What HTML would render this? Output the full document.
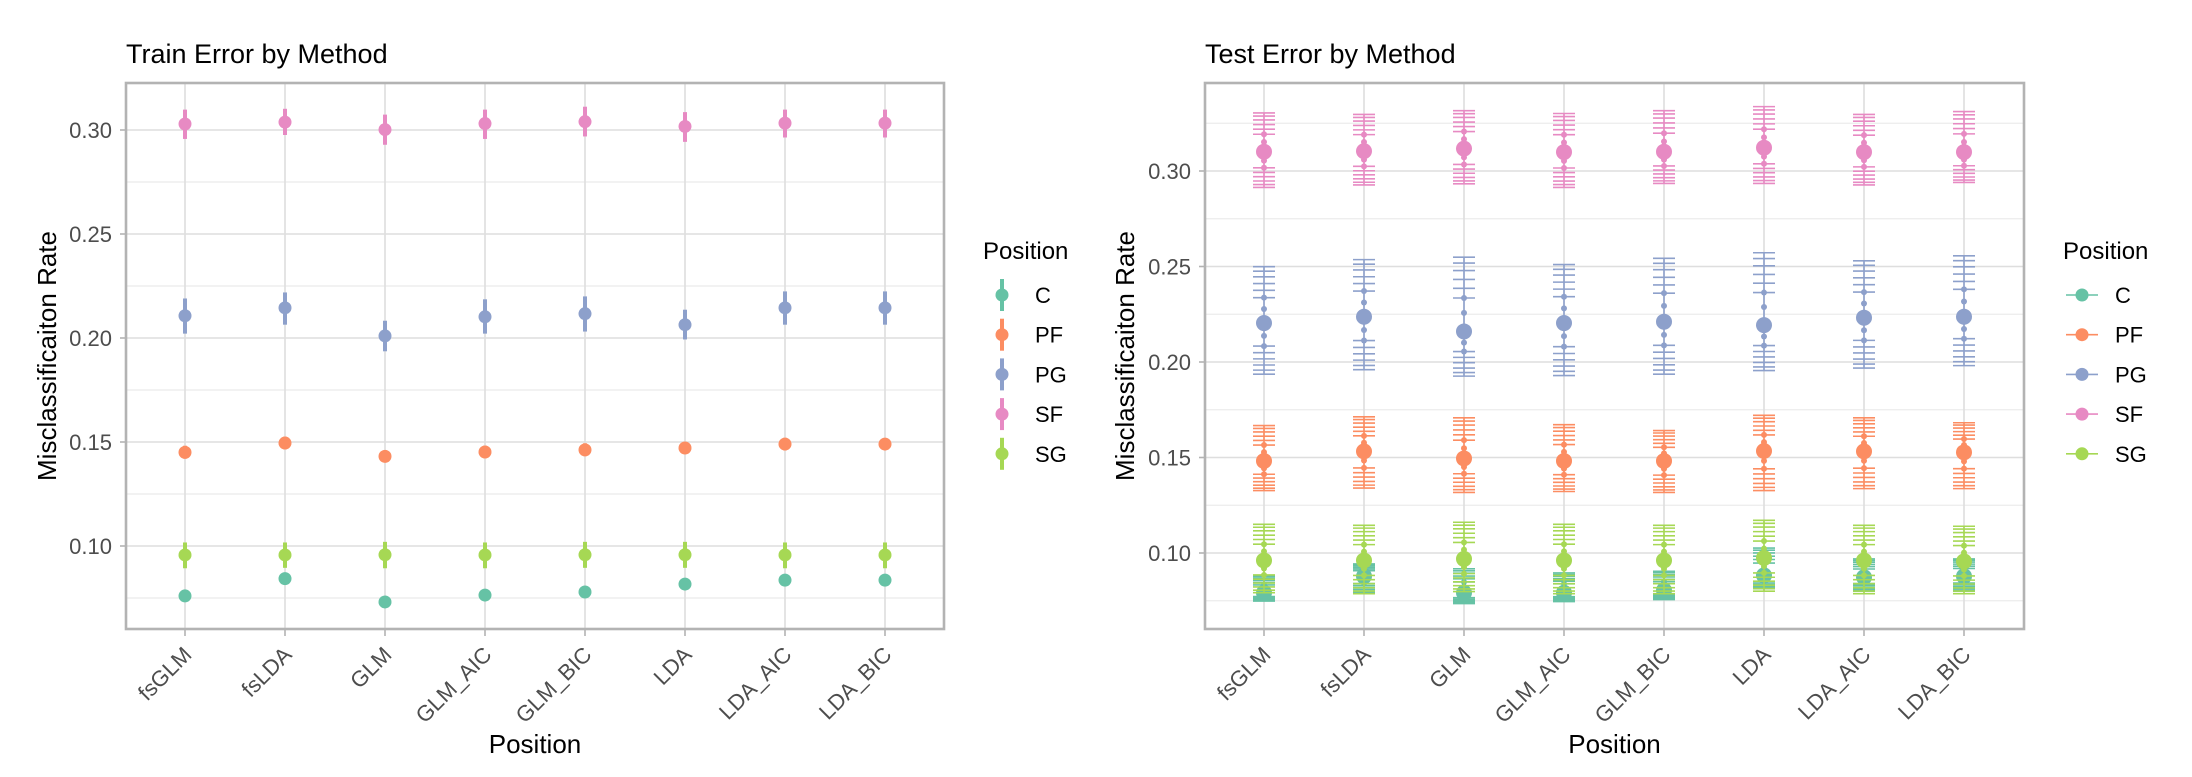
<!DOCTYPE html>
<html><head><meta charset="utf-8">
<style>
html,body{margin:0;padding:0;background:#fff;}
svg{display:block;font-family:"Liberation Sans",sans-serif;}
</style></head>
<body>
<svg id="chart" width="2192" height="777" viewBox="0 0 2192 777" xmlns="http://www.w3.org/2000/svg"></svg>
<script>
const methods = ["fsGLM","fsLDA","GLM","GLM_AIC","GLM_BIC","LDA","LDA_AIC","LDA_BIC"];
const positions = ["C","PF","PG","SF","SG"];
const colors = ["#66c2a5","#fc8d62","#8da0cb","#e78ac3","#a6d854"];
const yTicks = [0.10,0.15,0.20,0.25,0.30];
const yTickLabels = ["0.10","0.15","0.20","0.25","0.30"];
const yMinor = [0.075,0.125,0.175,0.225,0.275];
const yMinorTest = [0.075,0.125,0.175,0.225,0.275,0.325];

const trainMeanC  = [.0760,.0843,.0731,.0764,.0779,.0817,.0836,.0836];
const trainMeanPF = [.1450,.1495,.1431,.1452,.1462,.1471,.1490,.1490];
const trainMeanPG = [.2107,.2145,.2010,.2102,.2117,.2064,.2145,.2145];
const trainMeanSF = [.3029,.3038,.3002,.3031,.3040,.3017,.3033,.3033];
const trainMeanSG = [.0957,.0957,.0958,.0957,.0958,.0958,.0957,.0957];
const trainLoC  = [.0760,.0843,.0731,.0764,.0779,.0817,.0836,.0836];
const trainHiC  = [.0760,.0843,.0731,.0764,.0779,.0817,.0836,.0836];
const trainLoPF = [.1420,.1465,.1405,.1422,.1432,.1462,.1460,.1462];
const trainHiPF = [.1482,.1525,.1460,.1482,.1494,.1480,.1520,.1518];
const trainLoPG = [.2021,.2064,.1936,.2021,.2031,.1993,.2064,.2064];
const trainHiPG = [.2190,.2219,.2083,.2186,.2200,.2136,.2224,.2224];
const trainLoSF = [.2957,.2976,.2929,.2957,.2969,.2943,.2964,.2964];
const trainHiSF = [.3098,.3102,.3074,.3098,.3112,.3086,.3098,.3098];
const trainLoSG = [.0893,.0895,.0893,.0893,.0895,.0895,.0893,.0893];
const trainHiSG = [.1017,.1017,.1020,.1017,.1020,.1020,.1017,.1017];

const testMeanC  = [.0792,.0878,.0792,.0792,.0805,.0883,.0873,.0878];
const testMeanPF = [.1482,.1532,.1495,.1482,.1482,.1534,.1532,.1527];
const testMeanPG = [.2204,.2237,.2160,.2204,.2211,.2193,.2232,.2237];
const testMeanSF = [.3101,.3104,.3117,.3099,.3101,.3122,.3099,.3099];
const testMeanSG = [.0961,.0961,.0969,.0961,.0961,.0974,.0961,.0956];
const testLoC  = [.0748,.0794,.0735,.0746,.0756,.0813,.0800,.0800];
const testHiC  = [.0883,.0943,.0917,.0896,.0904,.1026,.0969,.0969];
const testLoPF = [.1327,.1340,.1317,.1322,.1317,.1327,.1337,.1337];
const testHiPF = [.1667,.1713,.1708,.1672,.1641,.1721,.1708,.1682];
const testLoPG = [.1936,.1960,.1926,.1929,.1936,.1955,.1968,.1981];
const testHiPG = [.2499,.2536,.2549,.2510,.2543,.2572,.2530,.2556];
const testLoSF = [.2914,.2927,.2933,.2914,.2935,.2935,.2927,.2940];
const testHiSF = [.3304,.3296,.3316,.3301,.3316,.3337,.3296,.3311];
const testLoSG = [.0792,.0787,.0798,.0787,.0787,.0800,.0787,.0787];
const testHiSG = [.1150,.1145,.1161,.1150,.1145,.1171,.1145,.1140];

const trainMean=[trainMeanC,trainMeanPF,trainMeanPG,trainMeanSF,trainMeanSG];
const trainLo=[trainLoC,trainLoPF,trainLoPG,trainLoSF,trainLoSG];
const trainHi=[trainHiC,trainHiPF,trainHiPG,trainHiSF,trainHiSG];
const testMean=[testMeanC,testMeanPF,testMeanPG,testMeanSF,testMeanSG];
const testLo=[testLoC,testLoPF,testLoPG,testLoSF,testLoSG];
const testHi=[testHiC,testHiPF,testHiPG,testHiSF,testHiSG];

const NS="http://www.w3.org/2000/svg";
const svg=document.getElementById('chart');
function mk(tag,attrs,parent){const e=document.createElementNS(NS,tag);for(const k in attrs)e.setAttribute(k,attrs[k]);(parent||svg).appendChild(e);return e;}

function panel(cfg){
  const g=mk('g',{});
  
  
  const xs=i=>cfg.x0+59+i*100;
  const ys=v=>cfg.y30+(0.30-v)*cfg.ppu;
  const t=mk('text',{x:cfg.x0,y:63,'font-size':27,fill:'#000'},g);t.textContent=cfg.title;
  
  
  cfg.minor.forEach(v=>{mk('line',{x1:cfg.x0,x2:cfg.x1,y1:ys(v),y2:ys(v),stroke:'#ebebeb','stroke-width':1.2},g);});
  yTicks.forEach((v,i)=>{
    mk('line',{x1:cfg.x0,x2:cfg.x1,y1:ys(v),y2:ys(v),stroke:'#dedede','stroke-width':1.6},g);
    mk('line',{x1:cfg.x0-6,x2:cfg.x0,y1:ys(v),y2:ys(v),stroke:'#b3b3b3','stroke-width':1.6},g);
    const l=mk('text',{x:cfg.x0-14,y:ys(v)+8,'font-size':22,fill:'#4d4d4d','text-anchor':'end'},g);l.textContent=yTickLabels[i];
    
    
  });
  methods.forEach((m,i)=>{
    mk('line',{x1:xs(i),x2:xs(i),y1:83,y2:629,stroke:'#dedede','stroke-width':1.6},g);
    mk('line',{x1:xs(i),x2:xs(i),y1:629,y2:636,stroke:'#b3b3b3','stroke-width':1.6},g);
    const l=mk('text',{x:0,y:0,'font-size':22,fill:'#4d4d4d','text-anchor':'end',transform:`translate(${xs(i)+8},${656}) rotate(-45)`},g);l.textContent=m;
    
    
  });
  positions.forEach((p,pi)=>{
    const pg=mk('g',{},g);
    
    
    methods.forEach((m,i)=>{
      const x=xs(i),mv=cfg.mean[pi][i],lo=cfg.lo[pi][i],hi=cfg.hi[pi][i];
      if(cfg.test){
        mk('line',{x1:x,x2:x,y1:ys(lo),y2:ys(hi),stroke:colors[pi],'stroke-width':1.6},pg);
        [0,0.08,0.18,0.3,0.42,0.55].forEach(f=>{
          [lo+(mv-lo)*f, hi-(hi-mv)*f].forEach(v=>mk('line',{x1:x-11,x2:x+11,y1:ys(v),y2:ys(v),stroke:colors[pi],'stroke-width':1.6},pg));
        });
        [0.25,0.45].forEach(f=>{
          mk('circle',{cx:x,cy:ys(mv+(hi-mv)*f),r:3,fill:colors[pi]},pg);
          mk('circle',{cx:x,cy:ys(mv-(mv-lo)*f),r:3,fill:colors[pi]},pg);
        });
        const c=mk('circle',{cx:x,cy:ys(mv),r:8,fill:colors[pi]},pg);
        
        
      } else {
        if(hi-lo>0.0005) mk('line',{x1:x,x2:x,y1:ys(lo),y2:ys(hi),stroke:colors[pi],'stroke-width':4},pg);
        const c=mk('circle',{cx:x,cy:ys(mv),r:6.5,fill:colors[pi]},pg);
        
        
      }
    });
  });
  mk('rect',{x:cfg.x0,y:83,width:cfg.x1-cfg.x0,height:546,fill:'none',stroke:'#b3b3b3','stroke-width':2.6},g);
  const yt=mk('text',{x:0,y:0,'font-size':26,fill:'#000','text-anchor':'middle',transform:`translate(${cfg.ytx},356) rotate(-90)`},g);yt.textContent='Misclassificaiton Rate';
  
  
  const xt=mk('text',{x:(cfg.x0+cfg.x1)/2,y:753,'font-size':26,fill:'#000','text-anchor':'middle'},g);xt.textContent='Position';
  
  
  const lg=mk('g',{},g);
  
  
  const lt=mk('text',{x:cfg.lx,y:259,'font-size':24,fill:'#000'},lg);lt.textContent='Position';
  positions.forEach((p,pi)=>{
    const y=295+pi*39.7;
    const e=mk('g',{},lg);
    
    
    if(cfg.test){
      mk('line',{x1:cfg.kx-16,x2:cfg.kx+16,y1:y,y2:y,stroke:colors[pi],'stroke-width':1.6},e);
    } else {
      mk('line',{x1:cfg.kx,x2:cfg.kx,y1:y-16,y2:y+16,stroke:colors[pi],'stroke-width':4},e);
    }
    mk('circle',{cx:cfg.kx,cy:y,r:6.5,fill:colors[pi]},e);
    const tx=mk('text',{x:cfg.kx+33,y:y+8,'font-size':22,fill:'#000'},e);tx.textContent=p;
  });
}
panel({name:'train-panel',title:'Train Error by Method',x0:126,x1:944,y30:130,ppu:2080,minor:yMinor,mean:trainMean,lo:trainLo,hi:trainHi,test:false,ytx:56,lx:983,kx:1002});
panel({name:'test-panel',title:'Test Error by Method',x0:1205,x1:2024,y30:171,ppu:1910,minor:yMinorTest,mean:testMean,lo:testLo,hi:testHi,test:true,ytx:1134,lx:2063,kx:2082});
</script>
</body></html>
